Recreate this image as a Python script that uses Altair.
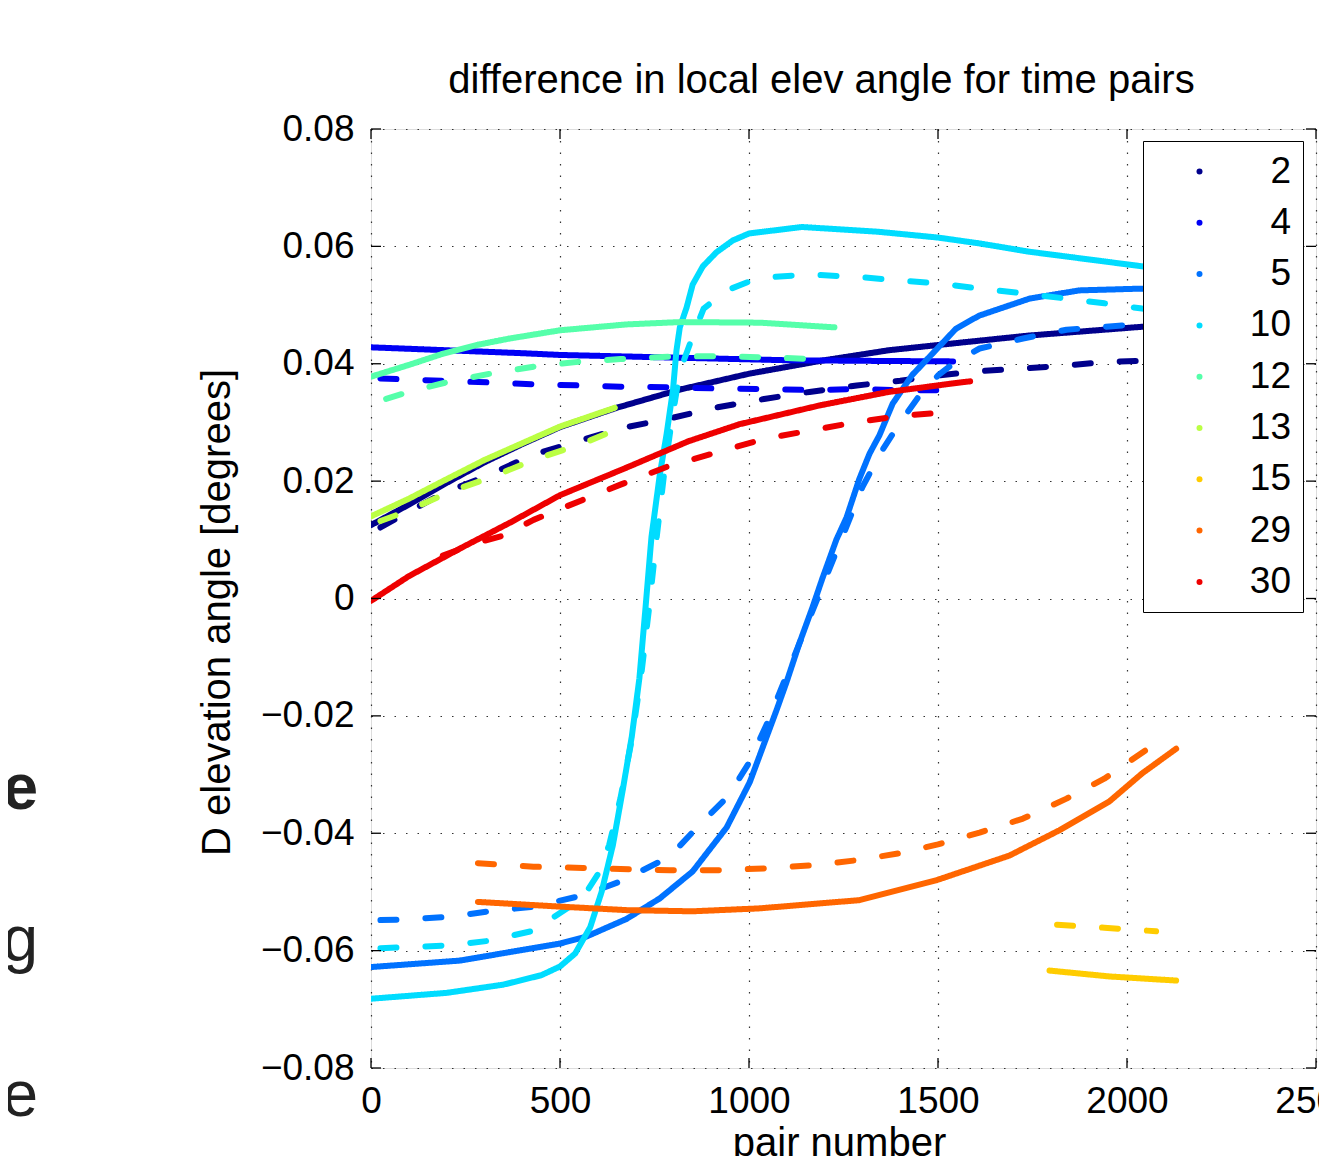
import altair as alt
import pandas as pd

FONT = "Liberation Sans, Arial, Helvetica, sans-serif"
W, H = 945, 939

sats = ["2", "4", "5", "10", "12", "13", "15", "29", "30"]
colors = ["#00008C", "#0000F5", "#0072FF", "#00DCFF", "#55FFAA",
          "#BBFF44", "#FFCC00", "#FF6600", "#EE0000"]

x_ticks = [0, 500, 1000, 1500, 2000, 2500]
y_ticks = [-0.08, -0.06, -0.04, -0.02, 0, 0.02, 0.04, 0.06, 0.08]

# ---- satellite 2 ----
s2_x = [0, 100, 200, 300, 400, 500, 650, 817, 1000, 1190, 1370, 1560, 1740, 1900, 2040, 2140]
s2_y = [0.0125, 0.0160, 0.0197, 0.0232, 0.0263, 0.0292, 0.0325, 0.0356, 0.0383, 0.0405,
        0.0423, 0.0436, 0.0448, 0.0456, 0.0463, 0.0467]
d2_x = [25, 100, 190, 310, 425, 660, 785, 910, 1040, 1160, 1285, 1400, 1500, 1600, 1725,
        1840, 1940, 2040, 2140]
d2_y = [0.0121, 0.0148, 0.0179, 0.0210, 0.0244, 0.0290, 0.0306, 0.0325, 0.0340, 0.0352,
        0.0363, 0.0371, 0.0380, 0.0387, 0.0392, 0.0397, 0.0403, 0.0405, 0.0410]
# ---- satellite 4 ----
s4_x = [0, 200, 400, 500, 700, 900, 1100, 1300, 1540]
s4_y = [0.0428, 0.0423, 0.0418, 0.0415, 0.0412, 0.0409, 0.0406, 0.0405, 0.0404]
d4_x = [25, 100, 220, 320, 430, 560, 660, 790, 910, 1040, 1175, 1285, 1400, 1540]
d4_y = [0.0375, 0.0373, 0.0370, 0.0368, 0.0365, 0.0363, 0.0361, 0.0360, 0.0358, 0.0357,
        0.0355, 0.0357, 0.0355, 0.0355]
# ---- satellite 5 ----
s5_x = [0, 235, 500, 570, 676, 764, 851, 941, 1002, 1028, 1073, 1099, 1134, 1168, 1194,
        1231, 1258, 1292, 1319, 1345, 1380, 1432, 1485, 1548, 1609, 1742, 1874, 2037, 2140]
s5_y = [-0.0628, -0.0617, -0.0588, -0.0576, -0.0546, -0.0511, -0.0465, -0.0390, -0.0313,
        -0.0268, -0.0190, -0.0143, -0.0075, -0.0015, 0.0034, 0.0100, 0.0138, 0.0204, 0.0247,
        0.0278, 0.0332, 0.0381, 0.0417, 0.0460, 0.0482, 0.0511, 0.0525, 0.0528, 0.0528]
d5_x = [25, 100, 210, 315, 430, 560, 660, 790, 870, 945, 1000, 1050, 1100, 1150, 1200,
        1250, 1300, 1350, 1400, 1450, 1500, 1550, 1610, 1725, 1840, 1940, 2040, 2140]
d5_y = [-0.0548, -0.0547, -0.0542, -0.0533, -0.0525, -0.0506, -0.0482, -0.0440, -0.0385,
        -0.0337, -0.0280, -0.0210, -0.0130, -0.0050, 0.0030, 0.0110, 0.0190, 0.0250, 0.0300,
        0.0345, 0.0380, 0.0405, 0.0426, 0.0443, 0.0458, 0.0463, 0.0468, 0.0470]
# ---- satellite 10 ----
s10_x = [0, 200, 350, 450, 500, 540, 580, 610, 640, 665, 690, 710, 725, 742, 764, 782, 799,
         808, 817, 835, 851, 878, 914, 957, 1000, 1140, 1340, 1500, 1610, 1740, 2040, 2140]
s10_y = [-0.0682, -0.0672, -0.0658, -0.0642, -0.0627, -0.0605, -0.0560, -0.0500, -0.0420,
         -0.0330, -0.0235, -0.0136, -0.0025, 0.0105, 0.0211, 0.0280, 0.0356, 0.0422, 0.0462,
         0.0496, 0.0535, 0.0566, 0.0590, 0.0610, 0.0622, 0.0633, 0.0625, 0.0615, 0.0605,
         0.0591, 0.0566, 0.0556]
d10_x = [25, 100, 210, 315, 430, 560, 600, 630, 660, 690, 715, 735, 755, 775, 795, 817, 850,
         880, 941, 1000, 1040, 1160, 1285, 1400, 1500, 1610, 1725, 1840, 1940, 2040, 2140]
d10_y = [-0.0596, -0.0594, -0.0591, -0.0583, -0.0566, -0.0510, -0.0470, -0.0420, -0.0340,
         -0.0240, -0.0130, -0.0020, 0.0100, 0.0210, 0.0300, 0.0387, 0.0445, 0.0494, 0.0525,
         0.0540, 0.0547, 0.0552, 0.0548, 0.0542, 0.0537, 0.0528, 0.0520, 0.0511, 0.0503,
         0.0494, 0.0487]
# ---- satellite 12 ----
s12_x = [0, 100, 190, 280, 367, 500, 676, 817, 1028, 1226]
s12_y = [0.0378, 0.0398, 0.0417, 0.0432, 0.0443, 0.0457, 0.0467, 0.0471, 0.0470, 0.0462]
d12_x = [40, 100, 210, 315, 430, 560, 660, 785, 910, 1040, 1175]
d12_y = [0.0340, 0.0352, 0.0370, 0.0383, 0.0395, 0.0404, 0.0408, 0.0412, 0.0413, 0.0411, 0.0408]
# ---- satellite 13 ----
s13_x = [0, 100, 190, 300, 412, 500, 645]
s13_y = [0.0140, 0.0170, 0.0200, 0.0236, 0.0268, 0.0293, 0.0325]
d13_x = [25, 100, 205, 320, 425, 560, 627]
d13_y = [0.0132, 0.0150, 0.0181, 0.0207, 0.0235, 0.0264, 0.0282]
# ---- satellite 15 ----
s15_x = [1795, 1953, 2130]
s15_y = [-0.0634, -0.0644, -0.0651]
d15_x = [1815, 1940, 2077]
d15_y = [-0.0556, -0.0561, -0.0567]
# ---- satellite 29 ----
s29_x = [283, 500, 676, 851, 1028, 1292, 1496, 1689, 1821, 1953, 2040, 2130]
s29_y = [-0.0517, -0.0525, -0.0531, -0.0533, -0.0528, -0.0514, -0.0480, -0.0438, -0.0395,
         -0.0346, -0.0298, -0.0256]
d29_x = [283, 350, 430, 560, 660, 790, 915, 1040, 1160, 1285, 1400, 1500, 1610, 1725, 1840,
         1940, 2060]
d29_y = [-0.0451, -0.0454, -0.0457, -0.0459, -0.0461, -0.0463, -0.0463, -0.0460, -0.0455,
         -0.0446, -0.0434, -0.0419, -0.0399, -0.0375, -0.0341, -0.0307, -0.0254]
# ---- satellite 30 ----
s30_x = [0, 100, 235, 370, 500, 676, 840, 975, 1187, 1370, 1557, 1585]
s30_y = [-0.0004, 0.0038, 0.0085, 0.0130, 0.0176, 0.0223, 0.0268, 0.0297, 0.0329, 0.0352,
         0.0368, 0.0370]
d30_x = [190, 280, 350, 430, 560, 660, 785, 910, 1040, 1160, 1280, 1400, 1530]
d30_y = [0.0073, 0.0095, 0.0107, 0.0134, 0.0168, 0.0194, 0.0225, 0.0248, 0.0272, 0.0286,
         0.0300, 0.0311, 0.0318]

series = [
    ("2", s2_x, s2_y, d2_x, d2_y),
    ("4", s4_x, s4_y, d4_x, d4_y),
    ("5", s5_x, s5_y, d5_x, d5_y),
    ("10", s10_x, s10_y, d10_x, d10_y),
    ("12", s12_x, s12_y, d12_x, d12_y),
    ("13", s13_x, s13_y, d13_x, d13_y),
    ("15", s15_x, s15_y, d15_x, d15_y),
    ("29", s29_x, s29_y, d29_x, d29_y),
    ("30", s30_x, s30_y, d30_x, d30_y),
]

rows = []
for sat, sx, sy, dx, dy in series:
    for xv, yv in zip(sx, sy):
        rows.append({"sat": sat, "style": "solid", "x": xv, "y": yv})
    for xv, yv in zip(dx, dy):
        rows.append({"sat": sat, "style": "dashed", "x": xv, "y": yv})
df = pd.DataFrame(rows)

xscale = alt.Scale(domain=[0, 2500], nice=False, zero=False)
yscale = alt.Scale(domain=[-0.08, 0.08], nice=False, zero=False)

xaxis = alt.Axis(values=x_ticks, format="d", title="pair number",
                 grid=True, ticks=False, domain=False,
                 labelPadding=15, labelFontSize=37, labelFont=FONT,
                 labelColor="black", labelFlush=False, labelOverlap=False,
                 titleFont=FONT, titleFontSize=40, titleFontWeight="normal",
                 titleColor="black", titleX=468, titleY=87,
                 titleBaseline="alphabetic", titleAlign="center",
                 gridColor="#333333", gridDash=[1.5, 10], gridWidth=1.2)
yaxis = alt.Axis(values=y_ticks,
                 labelExpr="datum.value == 0 ? '0' : format(datum.value, '.2f')",
                 title="D elevation angle [degrees]",
                 grid=True, ticks=False, domain=False,
                 labelPadding=17, labelFontSize=37, labelFont=FONT,
                 labelColor="black", labelFlush=False, labelOverlap=False,
                 titleFont=FONT, titleFontSize=40, titleFontWeight="normal",
                 titleColor="black", titleX=-142, titleY=483, titleAngle=270,
                 titleBaseline="alphabetic", titleAlign="center",
                 gridColor="#333333", gridDash=[1.5, 10], gridWidth=1.2)

color_scale = alt.Scale(domain=sats, range=colors)

lines = alt.Chart(df).mark_line(
    strokeWidth=6, strokeCap="round", strokeJoin="round", clip=True
).encode(
    x=alt.X("x:Q", scale=xscale, axis=xaxis),
    y=alt.Y("y:Q", scale=yscale, axis=yaxis),
    color=alt.Color("sat:N", scale=color_scale, sort=sats, legend=None),
    strokeDash=alt.StrokeDash("style:N",
                              scale=alt.Scale(domain=["solid", "dashed"],
                                              range=[[1, 0], [16, 29]]),
                              legend=None),
)

# legend carrier: no visible marks (empty after filter), legend from the colour scale domain
legend_layer = alt.Chart(df).transform_filter("datum.x < -1").mark_circle(
    size=36, opacity=1
).encode(
    x=alt.X("x:Q", scale=xscale, axis=xaxis),
    y=alt.Y("y:Q", scale=yscale, axis=yaxis),
    color=alt.Color("sat:N", scale=color_scale, sort=sats,
                    legend=alt.Legend(title=None, orient="none", legendX=772, legendY=12,
                                      symbolType="circle", symbolSize=36,
                                      symbolOffset=26, symbolOpacity=1,
                                      labelAlign="right", labelOffset=73,
                                      labelFont=FONT, labelFontSize=37, labelColor="black",
                                      padding=12, rowPadding=13.3,
                                      strokeColor="black", fillColor="white")),
)

xt = pd.DataFrame({"x": x_ticks})
yt = pd.DataFrame({"y": y_ticks})
tick_b = alt.Chart(xt).mark_rule(color="black", strokeWidth=1.3).encode(
    x=alt.X("x:Q", scale=xscale, axis=xaxis), y=alt.value(H), y2=alt.value(H - 10))
tick_t = alt.Chart(xt).mark_rule(color="black", strokeWidth=1.3).encode(
    x=alt.X("x:Q", scale=xscale, axis=xaxis), y=alt.value(0), y2=alt.value(10))
tick_l = alt.Chart(yt).mark_rule(color="black", strokeWidth=1.3).encode(
    y=alt.Y("y:Q", scale=yscale, axis=yaxis), x=alt.value(0), x2=alt.value(10))
tick_r = alt.Chart(yt).mark_rule(color="black", strokeWidth=1.3).encode(
    y=alt.Y("y:Q", scale=yscale, axis=yaxis), x=alt.value(W - 10), x2=alt.value(W))

deco_df = pd.DataFrame({"k": [0]})
deco1 = alt.Chart(deco_df).mark_text(text="e", font=FONT, fontSize=64, fontWeight="bold",
                                     align="right", baseline="alphabetic", color="#222").encode(
    x=alt.value(-333), y=alt.value(680))
deco2 = alt.Chart(deco_df).mark_text(text="g", font=FONT, fontSize=64,
                                     align="right", baseline="alphabetic", color="#222").encode(
    x=alt.value(-333), y=alt.value(832))
deco3 = alt.Chart(deco_df).mark_text(text="e", font=FONT, fontSize=64,
                                     align="right", baseline="alphabetic", color="#222").encode(
    x=alt.value(-333), y=alt.value(987))

chart = alt.layer(lines, legend_layer, tick_b, tick_t, tick_l, tick_r,
                  deco1, deco2, deco3).resolve_legend(color="independent").properties(
    width=W, height=H,
    title=alt.TitleParams("difference in local elev angle for time pairs", font=FONT,
                          fontSize=40, fontWeight="normal", color="black",
                          offset=33, baseline="alphabetic", dx=-22, dy=56, anchor="middle"),
    padding={"left": 363, "top": 121, "right": 3, "bottom": 88},
    autosize=alt.AutoSizeParams(type="none"),
).configure_view(stroke="black", strokeWidth=1.5).configure(background="white")

chart.save("out.html", embed_options={"renderer": "svg", "actions": False})
